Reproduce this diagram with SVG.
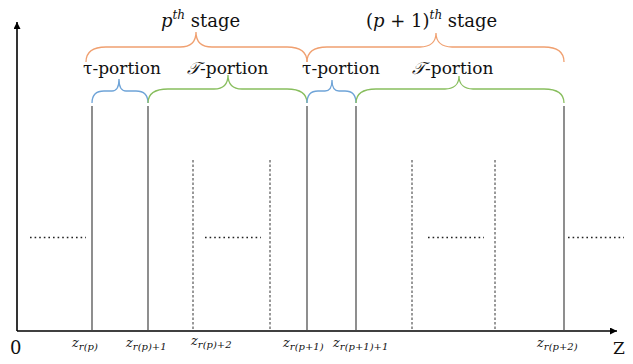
<svg xmlns="http://www.w3.org/2000/svg" width="633" height="364" viewBox="0 0 633 364">
<defs>
<marker id="arr" viewBox="0 0 10 10" refX="10" refY="5" markerWidth="7" markerHeight="7" markerUnits="userSpaceOnUse" orient="auto">
<path d="M0,0 L10,5 L0,10 z" fill="#000"/>
</marker>
</defs>
<style>
.axis{stroke:#000;stroke-width:1.6;fill:none}
.solid{stroke:#444;stroke-width:1.2;fill:none}
.vdot{stroke:#333;stroke-width:1;stroke-dasharray:2.5 2;fill:none}
.hdot{stroke:#222;stroke-width:1.6;stroke-dasharray:1.6 3;fill:none}
.or{stroke:#F0A070;stroke-width:1.3;fill:none}
.bl{stroke:#6FA4D8;stroke-width:1.3;fill:none}
.gr{stroke:#88BE5E;stroke-width:1.3;fill:none}
text{font-family:'DejaVu Serif','Liberation Serif',serif;fill:#111}
.mi{font-style:italic}
</style>
<g id="axes">
<line class="axis" x1="17" y1="331" x2="17" y2="22" marker-end="url(#arr)"/>
<line class="axis" x1="17" y1="331" x2="617" y2="331" marker-end="url(#arr)"/>
</g>
<g id="boundaries">
<line class="solid" x1="92" y1="106" x2="92" y2="331"/>
<line class="solid" x1="148" y1="106" x2="148" y2="331"/>
<line class="solid" x1="307" y1="106" x2="307" y2="331"/>
<line class="solid" x1="356" y1="106" x2="356" y2="331"/>
<line class="solid" x1="564" y1="106" x2="564" y2="331"/>
<line class="vdot" x1="193" y1="160" x2="193" y2="331"/>
<line class="vdot" x1="270" y1="160" x2="270" y2="331"/>
<line class="vdot" x1="412" y1="160" x2="412" y2="331"/>
<line class="vdot" x1="495" y1="160" x2="495" y2="331"/>
<line class="hdot" x1="30" y1="237.5" x2="86" y2="237.5"/>
<line class="hdot" x1="205" y1="237.5" x2="261" y2="237.5"/>
<line class="hdot" x1="428" y1="237.5" x2="484" y2="237.5"/>
<line class="hdot" x1="568" y1="237.5" x2="624" y2="237.5"/>
</g>
<g id="stage-p">
<path class="or" d="M86,62 C86,52 92,47 106,47 L180,47 C190,47 196,42 196,32 C196,42 202,47 212,47 L287,47 C301,47 307,52 307,62"/>
<text font-size="18" x="161" y="27"><tspan class="mi">p</tspan><tspan class="mi" font-size="12" dy="-8">th</tspan><tspan dy="8"> stage</tspan></text>
</g>
<g id="stage-p1">
<path class="or" d="M307,62 C307,52 313,47 327,47 L420,47 C430,47 436,42 436,33 C436,42 442,47 452,47 L544,47 C558,47 564,52 564,62"/>
<text font-size="18" x="366" y="27">(<tspan class="mi">p</tspan> + 1)<tspan class="mi" font-size="12" dy="-8">th</tspan><tspan dy="8"> stage</tspan></text>
</g>
<g id="tau-p">
<path class="bl" d="M92,103 C92,95 96,91 104,91 L112,91 C117,91 119,87 119,79 C119,87 121,91 126,91 L136,91 C144,91 148,95 148,103"/>
<text font-size="17" x="83" y="74">τ-portion</text>
</g>
<g id="T-p">
<path class="gr" d="M148,103 C148,94 154,89 168,89 L214,89 C222,89 228,85 228,75 C228,85 234,89 242,89 L287,89 C301,89 307,94 307,103"/>
<text font-size="17" x="187" y="74"><tspan class="mi">𝒯</tspan>-portion</text>
</g>
<g id="tau-p1">
<path class="bl" d="M307,103 C307,95 311,91 318,91 L325,91 C330,91 332,87 332,80 C332,87 334,91 339,91 L345,91 C352,91 356,95 356,103"/>
<text font-size="17" x="302" y="74">τ-portion</text>
</g>
<g id="T-p1">
<path class="gr" d="M356,103 C356,94 362,89 376,89 L445,89 C453,89 459,85 459,76 C459,85 465,89 473,89 L544,89 C558,89 564,94 564,103"/>
<text font-size="17" x="412" y="74"><tspan class="mi">𝒯</tspan>-portion</text>
</g>
<g id="labels">
<text font-size="18" x="10" y="354">0</text>
<text class="mi" font-size="13" x="72" y="347">z<tspan font-size="10" dy="3">r(p)</tspan></text>
<text class="mi" font-size="13" x="126" y="347">z<tspan font-size="10" dy="3">r(p)+1</tspan></text>
<text class="mi" font-size="13" x="191" y="345">z<tspan font-size="10" dy="3">r(p)+2</tspan></text>
<text class="mi" font-size="13" x="283" y="347">z<tspan font-size="10" dy="3">r(p+1)</tspan></text>
<text class="mi" font-size="13" x="333" y="347">z<tspan font-size="10" dy="3">r(p+1)+1</tspan></text>
<text class="mi" font-size="13" x="537" y="347">z<tspan font-size="10" dy="3">r(p+2)</tspan></text>
<text font-size="17" x="613" y="354">Z</text>
</g>
</svg>
